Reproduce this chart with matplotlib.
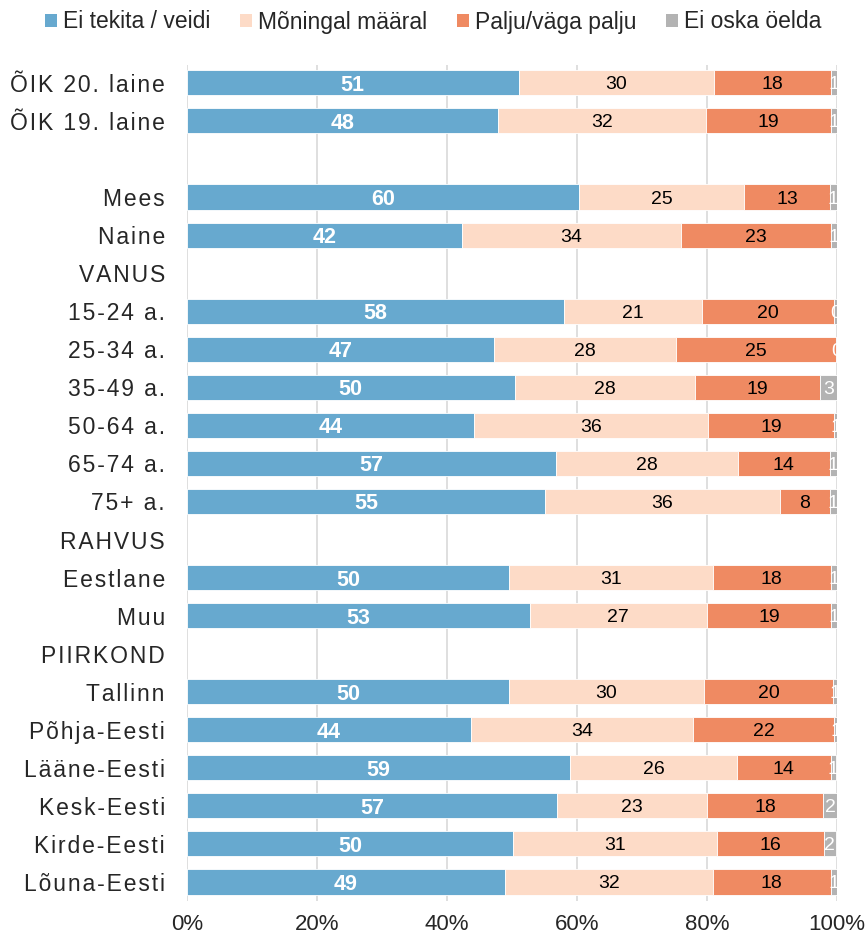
import numpy as np
import matplotlib
matplotlib.use('Agg')
import matplotlib.pyplot as plt
from matplotlib import font_manager
from matplotlib.patches import Patch


rows = ["ÕIK 20. laine", "ÕIK 19. laine", "", "Mees", "Naine", "VANUS",
        "15-24 a.", "25-34 a.", "35-49 a.", "50-64 a.", "65-74 a.", "75+ a.",
        "RAHVUS", "Eestlane", "Muu", "PIIRKOND", "Tallinn", "Põhja-Eesti",
        "Lääne-Eesti", "Kesk-Eesti", "Kirde-Eesti", "Lõuna-Eesti"]

# None = päise- või tühi rida
ei_tekita = [51.0, 47.8, None, 60.3, 42.3, None, 58.0, 47.3, 50.4, 44.2, 56.8, 55.1,
             None, 49.6, 52.7, None, 49.6, 43.7, 58.9, 56.9, 50.2, 48.9]
moningal = [30.1, 32.1, None, 25.4, 33.7, None, 21.2, 27.9, 27.7, 36.0, 27.9, 36.1,
            None, 31.3, 27.3, None, 29.9, 34.2, 25.7, 23.1, 31.4, 32.0]
palju = [18.0, 19.2, None, 13.2, 23.0, None, 20.4, 24.6, 19.3, 19.3, 14.2, 7.7,
         None, 18.1, 19.1, None, 19.9, 21.6, 14.4, 17.9, 16.4, 18.1]
ei_oska = [0.9, 0.9, None, 1.1, 1.0, None, 0.4, 0.2, 2.6, 0.6, 1.1, 1.1,
           None, 1.1, 0.9, None, 0.7, 0.6, 0.9, 2.1, 1.8, 1.0]

series_names = ["Ei tekita / veidi", "Mõningal määral", "Palju/väga palju", "Ei oska öelda"]
colors = ["#67a9cf", "#fddbc7", "#ef8a62", "#b3b3b3"]
label_colors = ["white", "black", "black", "white"]
label_weights = ["bold", "normal", "normal", "normal"]


def first_font(names):
    have = {f.name for f in font_manager.fontManager.ttflist}
    for n in names:
        if n in have:
            return n
    return "DejaVu Sans"


base_font = first_font(["Liberation Sans", "Arimo"])
plt.rcParams['font.family'] = [base_font, 'DejaVu Sans']

fig = plt.figure(figsize=(8.68, 9.40), dpi=100)
ax = fig.add_axes([187 / 868, 39 / 940, 650 / 868, 836 / 940])

y = np.arange(len(rows))
left = np.zeros(len(rows))
for name, vals, col, lc, lw in zip(series_names, [ei_tekita, moningal, palju, ei_oska],
                                   colors, label_colors, label_weights):
    idx = [i for i, v in enumerate(vals) if v is not None]
    w = np.array([vals[i] for i in idx])
    ax.barh(y[idx], w, left=left[idx], height=0.66, color=col, edgecolor='white',
            linewidth=0.6, zorder=2)
    for i, val in zip(idx, w):
        ax.text(left[i] + val / 2, i, f"{val:.0f}", ha='center', va='center_baseline',
                color=lc, fontweight=lw, fontsize=15.5 if lw == 'bold' else 14,
                clip_on=True, zorder=3)
        left[i] += val


# Exceli tähevahe imiteerimine
def spaced(s):
    return '\u200a'.join(s)


ax.set_xlim(0, 100)
ax.set_ylim(len(rows) - 0.5, -0.47)
ax.set_yticks(y)
ax.set_yticklabels([spaced(r) for r in rows], fontsize=16.5)
ax.set_xticks(np.arange(0, 101, 20))
ax.set_xticklabels([f"{t}%" for t in range(0, 101, 20)], fontsize=16)
ax.tick_params(axis='y', length=0, pad=16, labelcolor='#262626')
ax.tick_params(axis='x', length=0, pad=9, labelcolor='#262626')
ax.grid(axis='x', color='#d9d9d9', linewidth=1.2, zorder=0)
ax.set_axisbelow(True)
for s in ax.spines.values():
    s.set_visible(False)

handles = [Patch(facecolor=c, edgecolor='none') for c in colors]
fig.legend(handles, series_names, loc='center left', bbox_to_anchor=(45 / 868, 1 - 22 / 940),
           ncol=4, frameon=False, borderpad=0, borderaxespad=0, handlelength=0.53,
           handleheight=0.53, handletextpad=0.25, columnspacing=1.3,
           prop={'size': 16.5}, labelcolor='#262626')

fig.savefig('out.png', dpi=100)
